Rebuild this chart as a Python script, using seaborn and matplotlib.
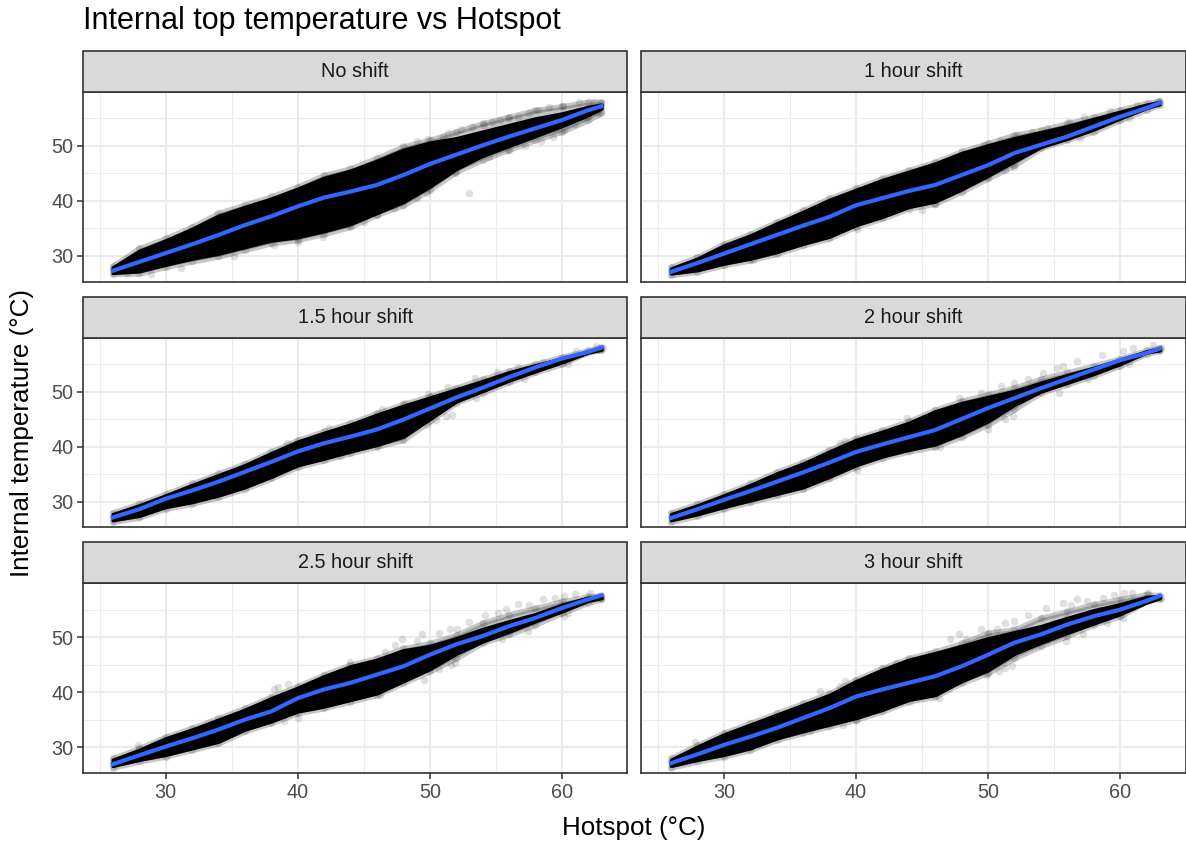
import pandas as pd
import matplotlib
matplotlib.use("Agg")
import matplotlib.pyplot as plt
from matplotlib.patches import Rectangle
import seaborn as sns

PANELS = ["No shift", "1 hour shift", "1.5 hour shift", "2 hour shift", "2.5 hour shift", "3 hour shift"]
X_TICKS = [30, 40, 50, 60]
X_MINOR = [25, 35, 45, 55]
Y_TICKS = [30, 40, 50]
Y_MINOR = [35, 45, 55]

# every 2 degrees of hotspot
hotspot = [26, 28, 30, 32, 34, 36, 38, 40, 42, 44, 46, 48, 50, 52, 54, 56, 58, 60, 62, 63]

smooth_0 = [27.3, 28.9, 30.5, 32.1, 33.8, 35.6, 37.2, 39.0, 40.6, 41.7, 42.9, 44.7, 46.7, 48.4, 50.1, 51.7, 53.2, 54.7, 56.5, 57.2]
smooth_1 = [27.1, 28.7, 30.4, 32.1, 33.8, 35.5, 37.1, 39.2, 40.5, 41.8, 42.9, 44.7, 46.5, 48.7, 50.2, 51.7, 53.5, 55.3, 56.9, 57.8]
smooth_2 = [27.1, 28.6, 30.5, 32.0, 33.6, 35.4, 37.2, 39.1, 40.6, 41.8, 43.1, 44.9, 46.9, 48.9, 50.7, 52.6, 54.4, 56.0, 57.2, 58.0]
smooth_3 = [27.0, 28.6, 30.3, 31.9, 33.6, 35.3, 37.1, 39.0, 40.4, 41.7, 43.0, 45.0, 47.0, 48.8, 50.6, 52.3, 54.0, 55.7, 57.0, 57.8]
smooth_4 = [26.9, 28.5, 30.1, 31.6, 33.2, 35.0, 36.5, 38.9, 40.5, 41.7, 43.2, 44.7, 46.8, 48.7, 50.2, 52.0, 53.5, 55.3, 56.9, 57.6]
smooth_5 = [27.1, 28.7, 30.4, 31.9, 33.5, 35.3, 37.1, 39.2, 40.5, 41.7, 42.9, 44.7, 46.8, 49.0, 50.5, 52.3, 53.8, 55.0, 56.6, 57.5]

# outer reach of the cloud
upper_0 = [28.2, 31.4, 33.2, 35.3, 37.8, 39.3, 40.8, 42.6, 44.7, 45.9, 47.8, 49.9, 51.1, 52.6, 54.1, 55.3, 56.5, 57.2, 58.0, 58.0]
lower_0 = [26.7, 26.8, 28.0, 29.0, 29.9, 31.1, 32.3, 32.9, 34.0, 35.3, 37.5, 39.2, 42.0, 45.3, 47.5, 49.3, 51.1, 52.6, 54.7, 56.0]
upper_1 = [28.0, 29.8, 32.2, 34.0, 36.2, 38.3, 40.5, 42.3, 44.1, 45.6, 47.1, 49.0, 50.5, 52.0, 52.9, 54.1, 55.3, 56.6, 57.8, 58.2]
lower_1 = [26.5, 27.1, 28.3, 29.2, 30.4, 31.9, 33.2, 35.3, 36.8, 38.6, 39.5, 41.7, 44.1, 46.5, 49.6, 51.1, 52.6, 54.7, 56.6, 57.5]
upper_2 = [28.0, 29.6, 31.4, 33.3, 35.1, 36.9, 39.1, 41.2, 42.8, 44.3, 46.1, 47.7, 49.2, 50.7, 52.3, 53.8, 55.0, 56.3, 57.5, 58.1]
lower_2 = [26.3, 27.1, 28.7, 29.6, 30.8, 32.3, 34.2, 36.3, 37.5, 38.8, 40.0, 41.2, 44.6, 48.0, 49.8, 51.7, 53.5, 55.0, 57.2, 57.5]
upper_3 = [28.0, 29.6, 31.4, 33.3, 35.4, 37.2, 39.4, 41.5, 43.0, 44.6, 46.7, 48.3, 49.5, 50.7, 52.3, 53.5, 54.7, 56.0, 57.5, 58.0]
lower_3 = [26.3, 27.4, 28.7, 29.9, 31.1, 32.3, 34.2, 36.3, 37.9, 39.1, 40.0, 41.8, 44.0, 46.8, 49.8, 51.3, 52.9, 54.7, 56.9, 57.4]
upper_4 = [28.0, 29.8, 31.9, 33.5, 35.3, 37.1, 39.2, 41.1, 43.2, 45.0, 46.2, 48.0, 48.9, 50.4, 52.6, 54.1, 55.3, 56.5, 57.4, 57.6]
lower_4 = [26.3, 27.4, 28.3, 29.5, 30.7, 32.9, 34.4, 36.2, 37.1, 38.3, 39.5, 41.7, 43.8, 46.2, 49.0, 50.5, 52.3, 54.4, 56.3, 56.9]
upper_5 = [28.0, 30.4, 32.6, 34.4, 36.2, 38.0, 39.8, 42.3, 44.4, 46.2, 47.4, 48.9, 50.8, 51.4, 53.5, 54.7, 56.0, 56.9, 57.8, 57.6]
lower_5 = [26.3, 27.4, 28.3, 29.5, 31.3, 32.6, 33.8, 35.0, 36.5, 38.3, 39.2, 41.7, 43.5, 46.2, 48.4, 50.2, 52.3, 53.8, 56.6, 57.0]

# part of the cloud that reads as solid black
core_up_0 = [27.9, 30.9, 32.8, 34.9, 37.3, 38.9, 40.4, 42.2, 44.2, 45.5, 47.3, 49.3, 50.6, 51.4, 52.6, 53.8, 55.0, 55.9, 57.1, 57.5]
core_lo_0 = [26.9, 27.2, 28.4, 29.5, 30.4, 31.6, 32.8, 33.4, 34.5, 35.8, 37.8, 39.8, 42.6, 45.8, 48.2, 50.0, 51.8, 53.6, 55.6, 56.8]
core_up_1 = [27.7, 29.5, 31.9, 33.7, 35.9, 38.0, 40.2, 42.0, 43.8, 45.3, 46.8, 48.7, 50.1, 51.4, 52.5, 53.6, 54.9, 56.2, 57.5, 58.0]
core_lo_1 = [26.8, 27.4, 28.6, 29.5, 30.7, 32.2, 33.5, 35.6, 37.1, 38.9, 39.9, 42.1, 44.6, 47.2, 49.8, 51.3, 53.0, 55.0, 56.9, 57.6]
core_up_2 = [27.7, 29.3, 31.1, 33.0, 34.8, 36.6, 38.8, 40.9, 42.5, 44.0, 45.8, 47.4, 48.9, 50.4, 51.9, 53.5, 54.8, 56.0, 57.3, 58.0]
core_lo_2 = [26.6, 27.4, 29.0, 29.9, 31.1, 32.6, 34.5, 36.6, 37.8, 39.1, 40.3, 41.8, 45.0, 48.2, 50.1, 52.0, 53.7, 55.3, 57.1, 57.6]
core_up_3 = [27.7, 29.3, 31.1, 33.0, 35.1, 36.9, 39.1, 41.2, 42.7, 44.3, 46.4, 47.9, 49.0, 50.1, 51.6, 53.0, 54.3, 55.8, 57.3, 57.9]
core_lo_3 = [26.6, 27.7, 29.0, 30.2, 31.4, 32.6, 34.5, 36.6, 38.2, 39.4, 40.4, 42.3, 44.6, 47.6, 50.0, 51.6, 53.2, 55.0, 57.1, 57.5]
core_up_4 = [27.7, 29.5, 31.6, 33.2, 35.0, 36.8, 38.9, 40.8, 42.9, 44.7, 45.9, 47.6, 48.4, 49.8, 51.5, 52.9, 54.2, 55.9, 57.2, 57.5]
core_lo_4 = [26.6, 27.7, 28.6, 29.8, 31.0, 33.2, 34.7, 36.5, 37.4, 38.6, 39.8, 42.0, 44.2, 47.0, 49.2, 51.0, 52.9, 54.7, 56.6, 57.1]
core_up_5 = [27.7, 30.1, 32.3, 34.1, 35.9, 37.7, 39.5, 42.0, 44.1, 45.9, 47.1, 48.4, 49.8, 50.9, 52.0, 53.5, 54.9, 56.0, 57.3, 57.5]
core_lo_5 = [26.6, 27.7, 28.6, 29.8, 31.6, 32.9, 34.1, 35.3, 36.8, 38.6, 39.5, 42.0, 44.0, 47.0, 49.0, 50.8, 52.5, 54.2, 56.3, 57.1]

# single circles that can be told apart around the band
stray_x_0 = [53, 49, 49.9, 51, 51.4, 52.4, 53.2, 54.1, 54.7, 55.3, 55.9, 56.7, 57.5, 58.2, 59, 60.1, 61.3, 62.4, 63,
             47.3, 46, 45, 43.9, 41.9, 40, 38.2, 35.2, 31.2, 28.9, 27.1, 49, 49.8, 51.9, 54.5, 55.9, 57.2, 58.4, 59.3, 60.2, 61, 61.9, 62.7,
             52, 52.5, 53, 53.5, 54, 54.5, 55, 55.5, 56, 56.5, 57, 57.5, 58, 58.5, 59, 59.5, 60, 60.5, 61, 61.5, 62]
stray_y_0 = [41.4, 50.8, 51.2, 51.7, 52.3, 53, 53.5, 53.8, 54.4, 54.7, 55, 55.3, 55.9, 56.5, 57, 57.3, 57.9, 57.9, 57.6,
             38.7, 37.5, 36.2, 35.6, 33.5, 32.6, 32, 29.9, 27.8, 26.7, 26.8, 40.5, 41.4, 45, 48, 49.3, 49.9, 50.8, 51.7, 52.9, 54, 55.2, 56,
             50, 51, 49, 51.5, 49.5, 52.5, 50, 52, 53, 51, 53.5, 52, 54, 53, 55, 53, 55.5, 54, 56, 55, 56.8]
stray_x_1 = [49.7, 50.9, 52.2, 53.3, 54.5, 56.1, 57.3, 59.2, 61.3, 62.9, 52, 51.3, 49.9, 45, 46, 40.1, 32.2, 57, 60.7]
stray_y_1 = [50.2, 51, 52, 52.6, 53.3, 54.4, 55.2, 56.3, 57.5, 58.1, 46.2, 45.6, 44.4, 38.3, 39.5, 34.8, 29.2, 51.5, 55]
stray_x_2 = [39.2, 42.4, 46.4, 48.1, 49.9, 51.4, 53.4, 55.1, 56.7, 58.6, 61.1, 62.6, 63.1, 51.7, 51.2, 50.5, 49.8, 43.2, 46.1, 53.5, 57.1, 60.5]
stray_y_2 = [40.6, 43.4, 46.8, 48, 49.6, 50.9, 52.4, 53.5, 54.5, 55.3, 57.4, 58.2, 58, 45.8, 45.5, 44.9, 44, 38.2, 40.3, 48.9, 52.3, 55]
stray_x_3 = [38.8, 39.2, 43.9, 47.8, 49.5, 51, 52, 53, 54.2, 55.2, 55.7, 56.7, 58.6, 60.2, 61, 62.5, 63.1, 51.9, 51.3, 50, 46.4, 40.1, 55.4, 57.6, 60.7]
stray_y_3 = [40.6, 41, 45.2, 48.9, 49.8, 51, 51.6, 52.3, 53.4, 54.2, 54.7, 55.6, 56.7, 57.4, 58, 58.4, 57.9, 45.6, 45, 43.2, 40, 35.7, 49.8, 52.2, 55]
stray_x_4 = [47.9, 47.4, 46.6, 44, 39.3, 38.5, 38.2, 27.9, 49, 49.4, 50.7, 51.5, 52.1, 53, 54.2, 55.2, 55.8, 56.7, 57.5, 58.6, 59.5, 60.2, 61, 62.1, 63,
             51.6, 50.7, 51.9, 49.6, 46.2, 40, 39, 34.3, 55.5, 57.4, 60.2, 60.5]
stray_y_4 = [49.6, 48.5, 47.3, 45.4, 41.4, 40.9, 40.5, 30.4, 49.3, 50.5, 50.8, 51.5, 51.4, 52.7, 54.1, 54.4, 55.2, 56.1, 55.8, 57, 57.2, 57.5, 57.8, 58, 57.2,
             45, 44.2, 45.3, 42.3, 39.4, 35.3, 34.7, 31.9, 49.6, 51.1, 53.8, 54.4]
stray_x_5 = [27.8, 37.3, 38.8, 39.2, 43, 45.5, 47.1, 47.8, 48.3, 49.5, 50.7, 51.3, 52, 53, 54.4, 55.7, 56.3, 56.7, 57.5, 58.7, 59.5, 60.3, 60.9, 62.1, 63.1,
             51.8, 51.3, 50.8, 49.9, 46.3, 40, 39, 36.5, 55.9, 57.2, 59, 60.2,
             52, 53, 54, 54.5, 55, 56, 57, 57.5, 58, 58.5, 59, 60, 61]
stray_y_5 = [31, 40.3, 41.2, 42, 45.3, 47, 49.6, 50.5, 49.6, 51.5, 51.4, 52.6, 52.9, 54.1, 55.3, 56.3, 55.8, 56.9, 56.6, 57.2, 57.6, 58, 58.1, 58, 57.2,
             44.7, 44.4, 43.8, 43.2, 38.9, 35, 34.1, 32.9, 49.3, 50.5, 52.6, 53.5,
             48, 50, 51.5, 49.5, 52.5, 53.5, 52, 54, 53, 55, 54, 55.5, 56.5]

smooths = [smooth_0, smooth_1, smooth_2, smooth_3, smooth_4, smooth_5]
uppers = [upper_0, upper_1, upper_2, upper_3, upper_4, upper_5]
lowers = [lower_0, lower_1, lower_2, lower_3, lower_4, lower_5]
core_ups = [core_up_0, core_up_1, core_up_2, core_up_3, core_up_4, core_up_5]
core_los = [core_lo_0, core_lo_1, core_lo_2, core_lo_3, core_lo_4, core_lo_5]
strays_x = [stray_x_0, stray_x_1, stray_x_2, stray_x_3, stray_x_4, stray_x_5]
strays_y = [stray_y_0, stray_y_1, stray_y_2, stray_y_3, stray_y_4, stray_y_5]

plt.rcParams["font.family"] = ["Liberation Sans", "DejaVu Sans"]

frames = []
for i, name in enumerate(PANELS):
    frames.append(pd.DataFrame({"Shift": name, "kind": "stray", "x": strays_x[i], "y": strays_y[i]}))
    frames.append(pd.DataFrame({"Shift": name, "kind": "upper", "x": hotspot, "y": uppers[i]}))
    frames.append(pd.DataFrame({"Shift": name, "kind": "lower", "x": hotspot, "y": lowers[i]}))
df = pd.concat(frames, ignore_index=True)


def draw_panel(data, **kws):
    ax = plt.gca()
    i = PANELS.index(data["Shift"].iloc[0])
    ax.fill_between(hotspot, lowers[i], uppers[i], color="black", alpha=0.22, lw=4, zorder=2)
    ax.fill_between(hotspot, core_los[i], core_ups[i], color="black", lw=2.5, zorder=2.1)
    sns.scatterplot(data=data, x="x", y="y", color="black", alpha=0.12, s=30, linewidth=0, ax=ax, zorder=3)
    sns.lineplot(x=hotspot, y=smooths[i], color="#3366FF", lw=3, ax=ax, zorder=4)


g = sns.FacetGrid(df, col="Shift", col_order=PANELS, col_wrap=2, sharex=True, sharey=True)
g.map_dataframe(draw_panel)
fig = g.figure
fig.set_size_inches(11.86, 8.43)
fig.subplots_adjust(left=83 / 1186, right=1185.5 / 1186, top=1 - 92 / 843, bottom=1 - 773 / 843,
                    wspace=14 / 544, hspace=56 / 190)

for i, (ax, name) in enumerate(zip(g.axes.flat, PANELS)):
    ax.set_xlim(23.75, 64.95)
    ax.set_ylim(25.3, 59.8)
    ax.set_title("")
    ax.set_xlabel("")
    ax.set_ylabel("")
    ax.set_xticks(X_TICKS)
    ax.set_yticks(Y_TICKS)
    ax.set_xticks(X_MINOR, minor=True)
    ax.set_yticks(Y_MINOR, minor=True)
    ax.set_axisbelow(True)
    ax.grid(True, which="major", color="#ebebeb", lw=1.5)
    ax.grid(True, which="minor", color="#ebebeb", lw=0.8)
    ax.tick_params(which="minor", length=0)
    ax.tick_params(which="major", length=4, width=1.1, color="#333333", labelcolor="#4d4d4d", labelsize=14.3, pad=3)
    ax.tick_params(axis="x", labelbottom=i >= 4, bottom=i >= 4)
    ax.tick_params(axis="y", labelleft=i % 2 == 0, left=i % 2 == 0)
    for side in ax.spines.values():
        side.set_visible(True)
        side.set_color("#333333")
        side.set_linewidth(1.2)
    ax.add_patch(Rectangle((0, 1), 1, 41 / 190, transform=ax.transAxes, clip_on=False,
                           fc="#d9d9d9", ec="#333333", lw=1.2, zorder=5))
    ax.text(0.5, 1 + 20.5 / 190, name, transform=ax.transAxes, ha="center", va="center",
            fontsize=14.3, color="#1a1a1a", zorder=6)

fig.text(83 / 1186, 1 - 21 / 843, "Internal top temperature vs Hotspot", ha="left", va="center", fontsize=22, color="black")
fig.text(634 / 1186, 1 - 828 / 843, "Hotspot (°C)", ha="center", va="center", fontsize=18.7, color="black")
fig.text(22 / 1186, 1 - 433 / 843, "Internal temperature (°C)", ha="center", va="center", rotation=90, fontsize=18.7, color="black")

fig.savefig("out.png", dpi=100)
